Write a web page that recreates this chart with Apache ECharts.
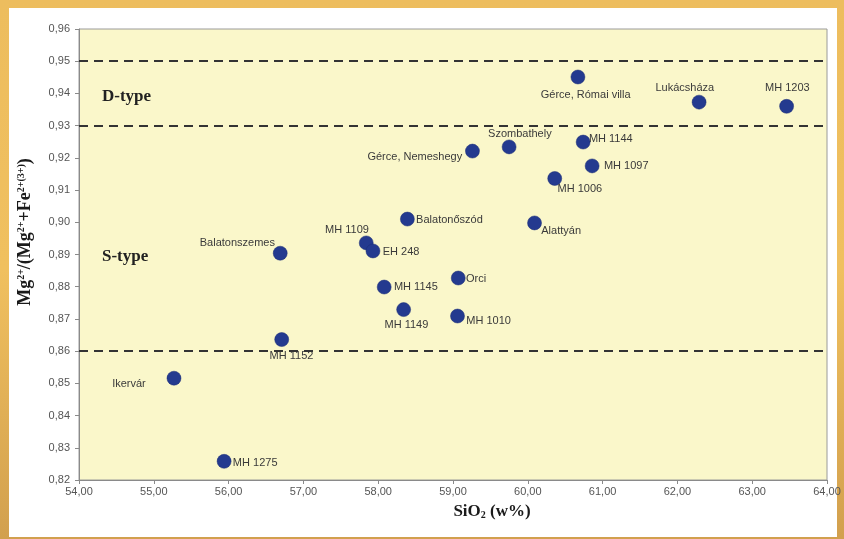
<!DOCTYPE html>
<html>
<head>
<meta charset="utf-8">
<script src="https://cdn.jsdelivr.net/npm/echarts@6/dist/echarts.min.js"></script>
<style>
  html, body { margin: 0; padding: 0; }
  #chart { width: 844px; height: 539px; }
</style>
</head>
<body>
<div id="chart"></div>
<script>
// Sample localities
const sampleNames = [
  'Gérce, Római villa', 'Lukácsháza', 'MH 1203', 'Szombathely', 'Gérce, Nemeshegy',
  'MH 1144', 'MH 1097', 'MH 1006', 'Balatonőszód', 'Alattyán',
  'MH 1109', 'EH 248', 'Balatonszemes', 'Orci', 'MH 1145',
  'MH 1149', 'MH 1010', 'MH 1152', 'Ikervár', 'MH 1275'
];
// SiO2 content (w%)
const sio2 = [
  60.67, 62.29, 63.46, 59.75, 59.26,
  60.74, 60.86, 60.36, 58.39, 60.09,
  57.84, 57.93, 56.69, 59.07, 58.08,
  58.34, 59.06, 56.71, 55.27, 55.94
];
// Mg2+/(Mg2+ + Fe2+(3+))
const mgNumber = [
  0.9451, 0.9373, 0.9360, 0.9234, 0.9221,
  0.9249, 0.9175, 0.9136, 0.9010, 0.8998,
  0.8936, 0.8911, 0.8904, 0.8827, 0.8799,
  0.8729, 0.8709, 0.8636, 0.8516, 0.8258
];
// Boundary levels separating the D-type and S-type fields
const boundaries = [0.95, 0.93, 0.86];
const fieldNames = ['D-type', 'S-type'];

const MARKER = 14;

// Label placement for each locality, relative to the marker centre: [dx, dy, align]
const labelPlacement = {
  'Gérce, Római villa': [8, 18, 'center'],
  'Lukácsháza': [-14, -14, 'center'],
  'MH 1203': [1, -18, 'center'],
  'Szombathely': [11, -13, 'center'],
  'Gérce, Nemeshegy': [-10, 6, 'right'],
  'MH 1144': [6, -3, 'left'],
  'MH 1097': [12, 0, 'left'],
  'MH 1006': [3, 11, 'left'],
  'Balatonőszód': [9, 1, 'left'],
  'Alattyán': [7, 8, 'left'],
  'MH 1109': [-19, -13, 'center'],
  'EH 248': [10, 1, 'left'],
  'Balatonszemes': [-5, -10, 'right'],
  'Orci': [8, 1, 'left'],
  'MH 1145': [10, 0, 'left'],
  'MH 1149': [3, 16, 'center'],
  'MH 1010': [9, 5, 'left'],
  'MH 1152': [10, 17, 'center'],
  'Ikervár': [-28, 6, 'right'],
  'MH 1275': [9, 2, 'left']
};

const comma = (v, d) => v.toFixed(d).replace('.', ',');

const points = sampleNames.map((name, i) => {
  const p = labelPlacement[name];
  return {
    name: name,
    value: [sio2[i], mgNumber[i]],
    label: {
      position: [MARKER / 2 + p[0], MARKER / 2 + p[1]],
      align: p[2],
      verticalAlign: 'middle'
    }
  };
});

const chart = echarts.init(document.getElementById('chart'), null, { renderer: 'canvas' });

const serif = '"Liberation Serif", "Times New Roman", serif';
const sans = '"Liberation Sans", Arial, sans-serif';

chart.setOption({
  backgroundColor: {
    type: 'linear', x: 0, y: 0, x2: 0, y2: 1,
    colorStops: [
      { offset: 0, color: '#EDBD5E' },
      { offset: 0.5, color: '#F0C05F' },
      { offset: 1, color: '#D2A04E' }
    ]
  },
  animation: false,
  graphic: [
    {
      type: 'rect', z: -10, silent: true,
      shape: { x: 9, y: 8, width: 828, height: 529 },
      style: { fill: '#FFFFFF' }
    },
    {
      type: 'text', silent: true,
      x: 25, y: 232, rotation: Math.PI / 2,
      style: {
        text: 'Mg{sup|2+}/(Mg{sup|2+}+Fe{sup|2+(3+)})',
        font: 'bold 18px ' + serif,
        fill: '#1a1a1a',
        align: 'center', verticalAlign: 'middle',
        rich: {
          sup: { font: 'bold 10px ' + serif, fill: '#1a1a1a', verticalAlign: 'top', padding: [0, 0, 8, 0] }
        }
      }
    },
    {
      type: 'text', silent: true,
      x: 492, y: 512,
      style: {
        text: 'SiO{sub|2} (w%)',
        font: 'bold 17px ' + serif,
        fill: '#1a1a1a',
        align: 'center', verticalAlign: 'middle',
        rich: {
          sub: { font: 'bold 10px ' + serif, fill: '#1a1a1a', padding: [6, 0, 0, 0] }
        }
      }
    },
    {
      type: 'text', silent: true, x: 102, y: 97,
      style: { text: fieldNames[0], font: 'bold 17px ' + serif, fill: '#222', verticalAlign: 'middle' }
    },
    {
      type: 'text', silent: true, x: 102, y: 257,
      style: { text: fieldNames[1], font: 'bold 17px ' + serif, fill: '#222', verticalAlign: 'middle' }
    }
  ],
  grid: {
    left: 79, top: 29, right: 17, bottom: 59,
    show: true,
    backgroundColor: '#FAF7CA',
    borderColor: '#9a9a9a',
    borderWidth: 1
  },
  xAxis: {
    type: 'value',
    min: 54, max: 64, interval: 1,
    axisLine: { show: true, lineStyle: { color: '#8a8a8a' } },
    axisTick: { show: true, inside: false, length: 4, lineStyle: { color: '#8a8a8a' } },
    splitLine: { show: false },
    axisLabel: {
      margin: 6, color: '#555', fontFamily: sans, fontSize: 11,
      formatter: v => comma(v, 2)
    }
  },
  yAxis: {
    type: 'value',
    min: 0.82, max: 0.96, interval: 0.01,
    axisLine: { show: true, lineStyle: { color: '#8a8a8a' } },
    axisTick: { show: true, inside: false, length: 4, lineStyle: { color: '#8a8a8a' } },
    splitLine: { show: false },
    axisLabel: {
      margin: 9, color: '#555', fontFamily: sans, fontSize: 11,
      formatter: v => comma(v, 2)
    }
  },
  series: [
    {
      type: 'scatter',
      data: points,
      symbol: 'circle',
      symbolSize: MARKER,
      itemStyle: { color: '#243A8F', opacity: 1, borderColor: '#1b2d75', borderWidth: 0.5 },
      label: {
        show: true,
        formatter: p => p.name,
        color: '#3a3a3a',
        fontFamily: sans,
        fontSize: 11
      },
      labelLayout: { hideOverlap: false },
      markLine: {
        silent: true,
        symbol: ['none', 'none'],
        label: { show: false },
        lineStyle: { color: '#333333', type: [9, 6], width: 2 },
        data: boundaries.map(b => ({ yAxis: b }))
      }
    }
  ]
});
</script>
</body>
</html>
